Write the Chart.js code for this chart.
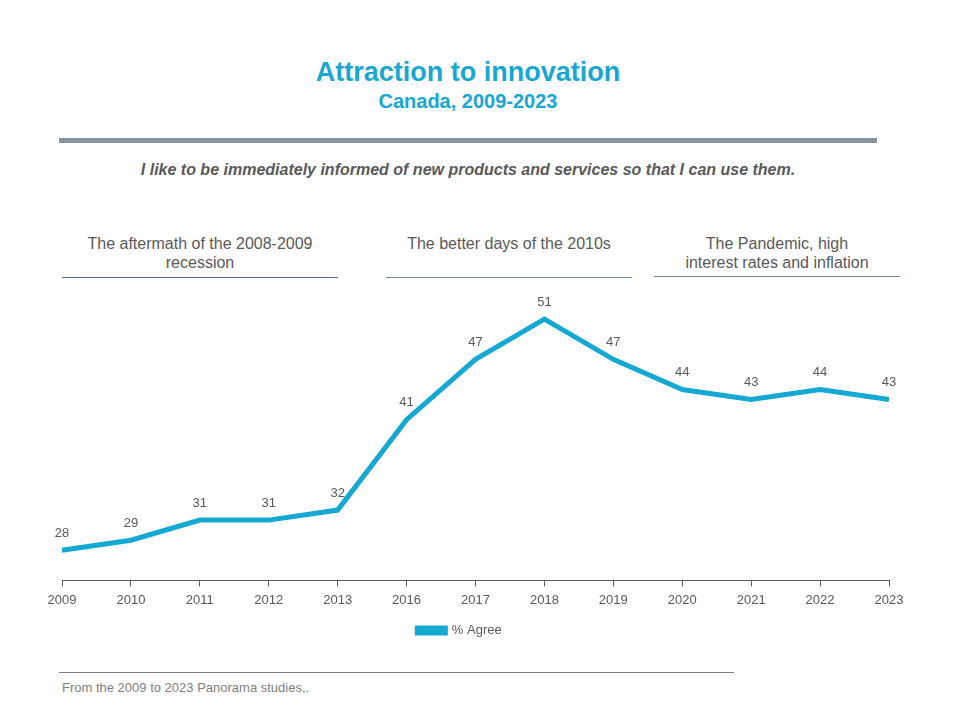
<!DOCTYPE html>
<html>
<head>
<meta charset="UTF-8">
<title>Attraction to innovation</title>
<script src="https://cdn.jsdelivr.net/npm/chart.js@4.4.4/dist/chart.umd.min.js"></script>
<style>
body { margin:0; background:#fff; font-family:"Liberation Sans", Arial, sans-serif; }
#wrap { position:relative; width:960px; height:720px; overflow:hidden; }
.t { position:absolute; white-space:nowrap; }
#title { left:0; width:936px; top:57px; text-align:center; color:#17a7d1; font-weight:bold; font-size:27px; line-height:31px; }
#sub { left:0; width:936px; top:90px; text-align:center; color:#17a7d1; font-weight:bold; font-size:20px; line-height:23px; }
#bar { position:absolute; left:59px; top:138px; width:818px; height:5px; background:#8a949c; }
#question { left:0; width:936px; top:161px; text-align:center; color:#595959; font-weight:bold; font-style:italic; font-size:16px; line-height:18px; }
.period { position:absolute; text-align:center; color:#595959; font-size:16px; line-height:19px; }
.pline { position:absolute; height:1px; background:#4f6d86; }
#foot { position:absolute; left:59px; top:672px; width:675px; height:1px; background:#808080; }
#src { left:62px; top:680px; color:#7f7f7f; font-size:13px; line-height:15px; }
#chart { position:absolute; left:0; top:200px; }
</style>
</head>
<body>
<div id="wrap">
  <div class="t" id="title">Attraction to innovation</div>
  <div class="t" id="sub">Canada, 2009-2023</div>
  <div id="bar"></div>
  <div class="t" id="question">I like to be immediately informed of new products and services so that I can use them.</div>

  <div class="period" style="left:52px;width:296px;top:234px;">The aftermath of the 2008-2009<br>recession</div>
  <div class="pline" style="left:62px;width:276px;top:277px;"></div>
  <div class="period" style="left:386px;width:246px;top:234px;">The better days of the 2010s</div>
  <div class="pline" style="left:386px;width:246px;top:277px;background:#6f8aa0;"></div>
  <div class="period" style="left:654px;width:246px;top:234px;">The Pandemic, high<br>interest rates and inflation</div>
  <div class="pline" style="left:654px;width:246px;top:276px;background:#6f8aa0;"></div>

  <canvas id="chart" width="960" height="447"></canvas>

  <div id="foot"></div>
  <div class="t" id="src">From the 2009 to 2023 Panorama studies,.</div>
</div>
<script>
const years = ['2009','2010','2011','2012','2013','2016','2017','2018','2019','2020','2021','2022','2023'];
const agree = [28, 29, 31, 31, 32, 41, 47, 51, 47, 44, 43, 44, 43];
const seriesName = '% Agree';
const yMin = 25;
const yMax = 55;

const lineColor = '#14a8d3';
const textColor = '#595959';

// value labels above each point
const valueLabels = {
  id: 'valueLabels',
  afterDatasetsDraw(chart) {
    const ctx = chart.ctx;
    const meta = chart.getDatasetMeta(0);
    ctx.save();
    ctx.font = '13px "Liberation Sans", Arial, sans-serif';
    ctx.fillStyle = textColor;
    ctx.textAlign = 'center';
    ctx.textBaseline = 'middle';
    meta.data.forEach((pt, i) => {
      ctx.fillText(chart.data.datasets[0].data[i], pt.x, pt.y - 17);
    });
    ctx.restore();
  }
};

// legend sits a bit left of centre in the original
const legendShift = {
  id: 'legendShift',
  afterLayout(chart) {
    chart.legend.left -= 16;
    chart.legend.right -= 16;
  }
};

Chart.defaults.font.family = '"Liberation Sans", Arial, sans-serif';
Chart.defaults.color = textColor;

new Chart(document.getElementById('chart').getContext('2d'), {
  type: 'line',
  data: {
    labels: years,
    datasets: [{
      label: seriesName,
      data: agree,
      borderColor: lineColor,
      backgroundColor: lineColor,
      borderWidth: 5,
      pointRadius: 0,
      tension: 0,
      borderJoinStyle: 'miter'
    }]
  },
  options: {
    responsive: false,
    animation: false,
    layout: { padding: { left: 62, right: 71, top: 79, bottom: 0 } },
    plugins: {
      legend: {
        position: 'bottom',
        labels: { boxWidth: 28, boxHeight: 5, font: { size: 13 }, color: textColor }
      },
      tooltip: { enabled: false }
    },
    scales: {
      x: {
        offset: false,
        grid: { display: true, drawOnChartArea: false, drawTicks: true, tickLength: 6, color: '#595959' },
        border: { display: true, color: '#595959', width: 1 },
        ticks: { font: { size: 13 }, color: textColor, padding: 6, maxRotation: 0, autoSkip: false }
      },
      y: {
        display: false,
        min: yMin,
        max: yMax
      }
    }
  },
  plugins: [valueLabels, legendShift]
});
</script>
</body>
</html>
